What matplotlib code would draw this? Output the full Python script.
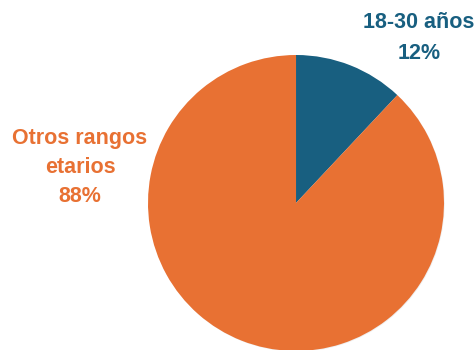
import matplotlib.pyplot as plt
import matplotlib.patheffects as pe

labels = ["18-30 años", "Otros rangos\netarios"]
shares = [12, 88]
colors = ["#185f80", "#e87133"]

fig = plt.figure(figsize=(4.77, 3.5), dpi=100)
ax = fig.add_axes([0, 0, 1, 1])

wedges, _ = ax.pie(shares, colors=colors, startangle=90, counterclock=False,
                   center=(296, 147), radius=148,
                   wedgeprops=dict(linewidth=0))
for w in wedges:
    w.set_path_effects([pe.SimplePatchShadow(offset=(0.5, -0.5), alpha=0.12,
                                             shadow_rgbFace="#777777"),
                        pe.Normal()])

ax.set_xlim(0, 477)
ax.set_ylim(0, 350)
ax.set_aspect("equal")
ax.axis("off")

font = dict(family="Liberation Sans", fontweight="bold", fontsize=15.5,
            ha="center", va="center")
ax.text(419, 312, f"{labels[0]}\n{shares[0]}%", color=colors[0],
        linespacing=1.6, **font)
ax.text(80, 182, f"{labels[1]}\n{shares[1]}%", color=colors[1],
        linespacing=1.5, **font)

fig.savefig("out.png", dpi=100)
